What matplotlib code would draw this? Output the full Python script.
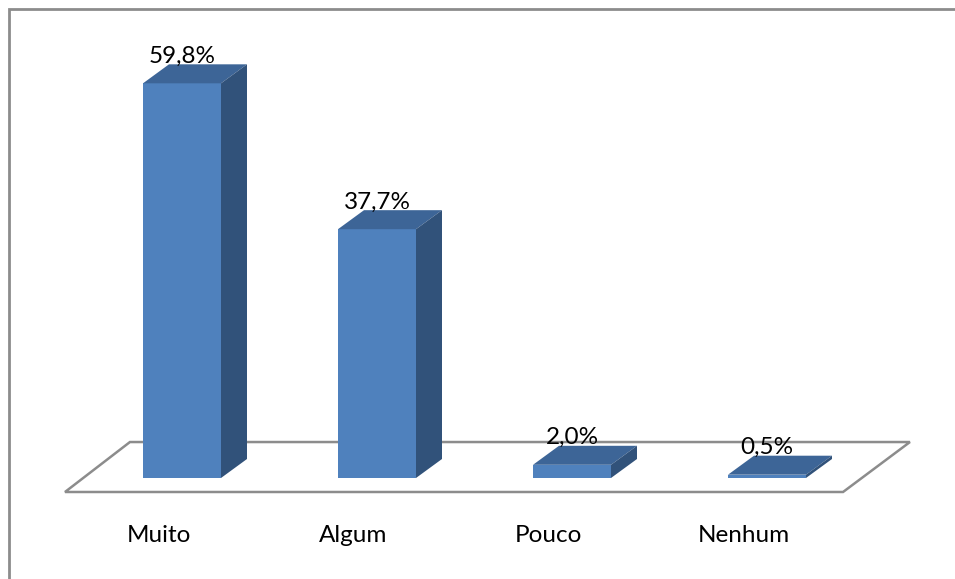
import numpy as np
import matplotlib.pyplot as plt
from matplotlib.patches import Polygon, Rectangle

categorias = ["Muito", "Algum", "Pouco", "Nenhum"]
valores = [59.8, 37.7, 2.0, 0.5]
rotulos = ["59,8%", "37,7%", "2,0%", "0,5%"]

plt.rcParams['font.family'] = ['Lato', 'DejaVu Sans']

# pixel geometry -> data units (1 category = 195 px, 1% = 6.6 px)
px_x = 195.0
px_y = 6.6
x0_px, y0_px = 182.0, 478.0
W, H = 955, 579

fig = plt.figure(figsize=(W / 100, H / 100), dpi=100)
ax = fig.add_axes([0, 0, 1, 1])
ax.set_xlim(-x0_px / px_x, (W - x0_px) / px_x)
ax.set_ylim((y0_px - H) / px_y, y0_px / px_y)
ax.axis("off")

largura = 78 / px_x
dx = 26 / px_x
dy = 19 / px_y

cor_frente = "#4F81BD"
cor_topo = "#3D6597"
cor_lado = "#31527A"

# floor (back edge behind bars)
piso = [(-0.6, -2.12), (3.39, -2.12), (3.733, 5.45), (-0.267, 5.45)]
ax.add_patch(Polygon(piso, closed=True, facecolor="white", edgecolor="#8C8C8C",
                     linewidth=1.8, zorder=1))

for i, v in enumerate(valores):
    xl = i - largura / 2
    xr = i + largura / 2
    # front
    ax.add_patch(Rectangle((xl, 0), largura, v, facecolor=cor_frente,
                           edgecolor="none", zorder=3))
    # top
    ax.add_patch(Polygon([(xl, v), (xr, v), (xr + dx, v + dy), (xl + dx, v + dy)],
                         closed=True, facecolor=cor_topo, edgecolor="none", zorder=3))
    # side
    ax.add_patch(Polygon([(xr, 0), (xr + dx, dy), (xr + dx, v + dy), (xr, v)],
                         closed=True, facecolor=cor_lado, edgecolor="none", zorder=3))
    ax.text(i, v + 27 / px_y, rotulos[i], ha="center", va="center",
            fontsize=17.5, color="black", zorder=5)
    ax.text(i - 0.12, -57 / px_y, categorias[i], ha="center", va="center",
            fontsize=17.5, color="black", zorder=5)

# outer chart border
fig.patches.append(Rectangle((8.5 / W, -0.1), 1.2, 1 - 9.5 / H + 0.1,
                             transform=fig.transFigure, fill=False,
                             edgecolor="#8C8C8C", linewidth=2.0))

fig.savefig("out.png", dpi=100)
